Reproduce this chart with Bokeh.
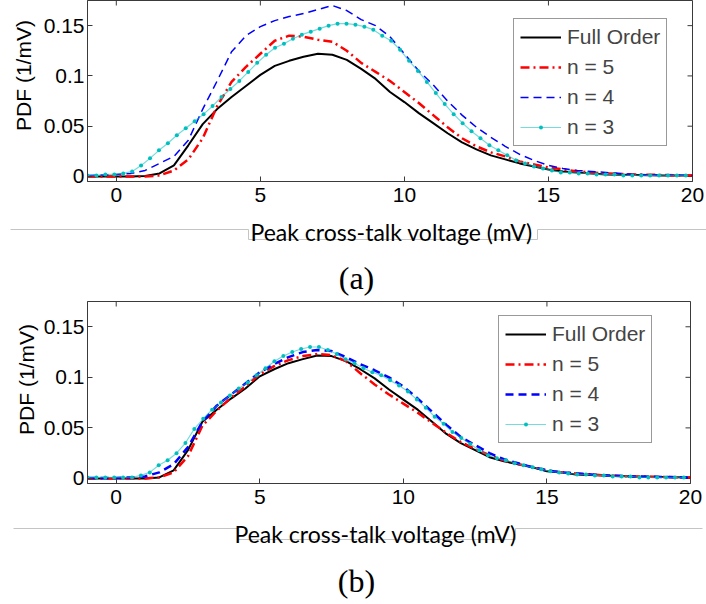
import math
from bokeh.plotting import figure
from bokeh.models import (Legend, LegendItem, FixedTicker, Range1d)
from bokeh.core.properties import value
from bokeh.layouts import column, row
from bokeh.embed import file_html
from bokeh.resources import INLINE

# ---------------- data ----------------
x_line = [-1, 0, 0.5, 1, 1.5, 2, 2.5, 3, 3.5, 4, 4.5, 5, 5.5, 6, 6.5, 7, 7.5, 8,
          8.5, 9, 9.5, 10, 10.5, 11, 11.5, 12, 12.5, 13, 13.5, 14, 14.5, 15,
          15.5, 16, 17, 18, 19, 20]

x_n3 = [-1.00, -0.69, -0.38, -0.07, 0.24, 0.55, 0.86, 1.17, 1.48, 1.79, 2.10,
        2.41, 2.72, 3.03, 3.34, 3.65, 3.96, 4.27, 4.58, 4.89, 5.20, 5.51, 5.82,
        6.13, 6.44, 6.75, 7.06, 7.37, 7.68, 7.99, 8.30, 8.61, 8.92, 9.23, 9.54,
        9.85, 10.16, 10.47, 10.78, 11.09, 11.40, 11.71, 12.02, 12.33, 12.64,
        12.95, 13.26, 13.57, 13.88, 14.19, 14.50, 14.81, 15.12, 15.43, 15.74,
        16.05, 16.36, 16.67, 16.98, 17.29, 17.60, 17.91, 18.22, 18.53, 18.84,
        19.15, 19.46, 19.77]

# panel (a)
a_full = [0, 0, 0, 0.0005, 0.003, 0.011, 0.031, 0.052, 0.067, 0.079, 0.090,
          0.101, 0.110, 0.115, 0.119, 0.122, 0.121, 0.116, 0.107, 0.097, 0.084,
          0.074, 0.063, 0.053, 0.043, 0.034, 0.027, 0.021, 0.017, 0.013, 0.010,
          0.007, 0.005, 0.004, 0.002, 0.0015, 0.001, 0.001]
a_n5 = [0, 0, 0, 0, 0.001, 0.006, 0.017, 0.038, 0.070, 0.094, 0.109, 0.122,
        0.135, 0.140, 0.139, 0.136, 0.134, 0.125, 0.113, 0.104, 0.095, 0.084,
        0.073, 0.061, 0.049, 0.038, 0.030, 0.024, 0.020, 0.015, 0.012, 0.009,
        0.007, 0.005, 0.003, 0.002, 0.0015, 0.001]
a_n4 = [0.001, 0.002, 0.003, 0.006, 0.013, 0.020, 0.036, 0.067, 0.095, 0.124,
        0.140, 0.149, 0.155, 0.159, 0.162, 0.166, 0.170, 0.165, 0.156, 0.150,
        0.139, 0.122, 0.105, 0.091, 0.075, 0.061, 0.049, 0.039, 0.030, 0.022,
        0.016, 0.011, 0.008, 0.006, 0.004, 0.002, 0.0015, 0.001]
a_n3 = [0.001, 0.001, 0.002, 0.002, 0.003, 0.005, 0.011, 0.018, 0.026, 0.033,
        0.041, 0.048, 0.055, 0.062, 0.070, 0.079, 0.087, 0.095, 0.104, 0.113,
        0.121, 0.128, 0.132, 0.137, 0.141, 0.144, 0.147, 0.150, 0.152, 0.152,
        0.151, 0.149, 0.146, 0.140, 0.135, 0.126, 0.115, 0.105, 0.094, 0.083,
        0.072, 0.062, 0.053, 0.045, 0.038, 0.031, 0.026, 0.021, 0.016, 0.013,
        0.010, 0.008, 0.006, 0.004, 0.004, 0.003, 0.003, 0.002, 0.002, 0.002,
        0.001, 0.001, 0.001, 0.001, 0.001, 0.001, 0.001, 0.001]

# panel (b)
b_full = [0, 0, 0, 0, 0.001, 0.008, 0.028, 0.056, 0.068, 0.079, 0.089, 0.101,
          0.108, 0.114, 0.118, 0.1215, 0.121, 0.116, 0.108, 0.099, 0.088,
          0.078, 0.068, 0.056, 0.044, 0.035, 0.028, 0.021, 0.017, 0.014, 0.011,
          0.007, 0.006, 0.004, 0.003, 0.002, 0.0015, 0.001]
b_n5 = [0, 0, 0, 0, 0.001, 0.006, 0.022, 0.052, 0.067, 0.080, 0.091, 0.103,
        0.111, 0.117, 0.121, 0.123, 0.122, 0.116, 0.104, 0.093, 0.083, 0.074,
        0.065, 0.055, 0.045, 0.036, 0.029, 0.023, 0.018, 0.014, 0.011, 0.008,
        0.006, 0.005, 0.003, 0.002, 0.0015, 0.001]
b_n4 = [0.0005, 0.0005, 0.001, 0.002, 0.006, 0.014, 0.031, 0.056, 0.072, 0.083,
        0.094, 0.105, 0.113, 0.120, 0.125, 0.127, 0.126, 0.120, 0.113, 0.107,
        0.100, 0.091, 0.079, 0.066, 0.053, 0.041, 0.033, 0.025, 0.019, 0.015,
        0.011, 0.008, 0.006, 0.005, 0.003, 0.002, 0.0015, 0.001]
b_n3 = [0.001, 0.001, 0.001, 0.001, 0.001, 0.001, 0.003, 0.006, 0.013, 0.018,
        0.025, 0.035, 0.049, 0.059, 0.068, 0.075, 0.082, 0.089, 0.095, 0.102,
        0.109, 0.116, 0.121, 0.125, 0.128, 0.130, 0.130, 0.127, 0.123, 0.118,
        0.114, 0.109, 0.105, 0.102, 0.097, 0.092, 0.086, 0.078, 0.070, 0.061,
        0.054, 0.046, 0.040, 0.034, 0.028, 0.023, 0.020, 0.018, 0.015, 0.013,
        0.011, 0.009, 0.007, 0.006, 0.005, 0.004, 0.004, 0.003, 0.003, 0.002,
        0.002, 0.002, 0.001, 0.001, 0.001, 0.001, 0.001, 0.001]

x_ticks = [0, 5, 10, 15, 20]
x_tick_labels = ["0", "5", "10", "15", "20"]
y_ticks = [0, 0.05, 0.1, 0.15]
y_tick_labels = ["0", "0.05", "0.1", "0.15"]
x_limits = [-1, 20]
y_limits = [-0.005, 0.175]
series_names = ["Full Order", "n = 5", "n = 4", "n = 3"]
x_label = "Peak cross-talk voltage (mV)"
y_label = "PDF (1/mV)"

# ---------------- styling ----------------
W = 706
LW = 40            # width of the strip holding the y-axis title
SANS = "Liberation Sans"
AXC = "#3a3a3a"
CYAN = "#00BFBF"


def blank(width, height, y_down=True):
    d = figure(width=width, height=height, x_range=Range1d(0, width),
               y_range=Range1d(height, 0) if y_down else Range1d(0, height),
               output_backend="svg", toolbar_location=None,
               x_axis_location=None, y_axis_location=None, min_border=0)
    d.frame_align = False
    d.outline_line_color = None
    d.background_fill_color = "white"
    d.border_fill_color = "white"
    d.xgrid.visible = False
    d.ygrid.visible = False
    return d


def make_plot(H, fl, fr, ft, fb, full, n5, n4, n3, leg_x, leg_bottom,
              blue_w, yl_x, yl_y):
    p = figure(width=W - LW, height=H, x_range=Range1d(*x_limits),
               y_range=Range1d(*y_limits), output_backend="svg",
               toolbar_location=None, min_border_left=fl - LW,
               min_border_right=W - fr, min_border_top=ft,
               min_border_bottom=H - fb)
    p.frame_align = False
    p.background_fill_color = "white"
    p.border_fill_color = "white"
    p.outline_line_color = AXC
    p.outline_line_width = 1
    p.xgrid.visible = False
    p.ygrid.visible = False

    for ax, ticks, labs in ((p.xaxis[0], x_ticks, x_tick_labels),
                            (p.yaxis[0], y_ticks, y_tick_labels)):
        ax.ticker = FixedTicker(ticks=ticks)
        ax.major_label_overrides = {t: l for t, l in zip(ticks, labs)}
        ax.major_tick_in = 5
        ax.major_tick_out = 0
        ax.minor_tick_line_color = None
        ax.axis_line_color = AXC
        ax.major_tick_line_color = AXC
        ax.major_label_text_font = SANS
        ax.major_label_text_font_size = "21px"
        ax.major_label_text_color = "black"
    p.xaxis.major_label_standoff = 6
    p.yaxis.major_label_standoff = 3

    # inward ticks on the top and right edges of the box (clipped dashes)
    p.scatter(x_ticks, [y_limits[1]] * len(x_ticks), marker="dash",
              angle=math.pi / 2, size=10, line_color=AXC, line_width=1)
    p.scatter([x_limits[1]] * len(y_ticks), y_ticks, marker="dash",
              size=10, line_color=AXC, line_width=1)

    r_full = p.line(x_line, full, line_color="black", line_width=2)
    r_n5 = p.line(x_line, n5, line_color="#FF0000", line_width=2.5,
                  line_dash="9 4 2 4")
    r_n4 = p.line(x_line, n4, line_color="#0000FF", line_width=blue_w,
                  line_dash="8 5")
    r_n3l = p.line(x_n3, n3, line_color=CYAN, line_alpha=0.55, line_width=1.2)
    r_n3m = p.scatter(x_n3, n3, size=4, fill_color=CYAN, line_color=None)

    leg = Legend(items=[LegendItem(label=series_names[0], renderers=[r_full]),
                        LegendItem(label=series_names[1], renderers=[r_n5]),
                        LegendItem(label=series_names[2], renderers=[r_n4]),
                        LegendItem(label=series_names[3],
                                   renderers=[r_n3l, r_n3m])],
                 location=(leg_x - fl, fb - leg_bottom),
                 label_text_font=SANS, label_text_font_size="21px",
                 glyph_width=41, glyph_height=10, label_height=20,
                 label_standoff=6, spacing=6, padding=6, margin=0,
                 border_line_color="#333333", border_line_width=1,
                 background_fill_color="white", background_fill_alpha=1)
    p.add_layout(leg)

    # strip on the left carrying the rotated y-axis title
    s = blank(LW, H, y_down=False)
    s.text([yl_x], [H - yl_y], text=[y_label], angle=math.pi / 2,
           text_font=value(SANS), text_font_size="21px",
           text_align="center", text_baseline="middle", text_color="black")
    return row(s, p, spacing=0)


def make_decor(H, line_y, box_bottom, box_left, box_right, line_l, line_r,
               xl_x, xl_y, caption, cap_y):
    # separator, axis caption and panel tag, drawn in pixel space
    d = blank(W, H)
    d.line([line_l, box_left, box_left, box_right, box_right, line_r],
           [line_y, line_y, box_bottom, box_bottom, line_y, line_y],
           line_color="#c4c4c4", line_width=1)
    d.text([xl_x], [xl_y], text=[x_label], text_font=value("Lato"),
           text_font_size="23px", text_align="center",
           text_baseline="alphabetic", text_color="black")
    d.text([W / 2 + 3], [cap_y], text=[caption],
           text_font=value("Liberation Serif"), text_font_size="32px",
           text_align="center", text_baseline="middle", text_color="black")
    return d


pa = make_plot(212, 86, 692, 0, 181, a_full, a_n5, a_n4, a_n3, 512, 146,
               1.5, 23, 75)
da = make_decor(88, 17, 27, 248, 537, 10, 706, 391, 19, "(a)", 65)
pb = make_plot(211, 87, 690, 1, 183, b_full, b_n5, b_n4, b_n3, 498, 143,
               2.5, 26, 79)
db = make_decor(93, 17, 28, 237, 515, 13, 702, 375, 22, "(b)", 69)

layout = column(pa, da, pb, db, spacing=0)
open("out.html", "w").write(file_html(layout, INLINE))
